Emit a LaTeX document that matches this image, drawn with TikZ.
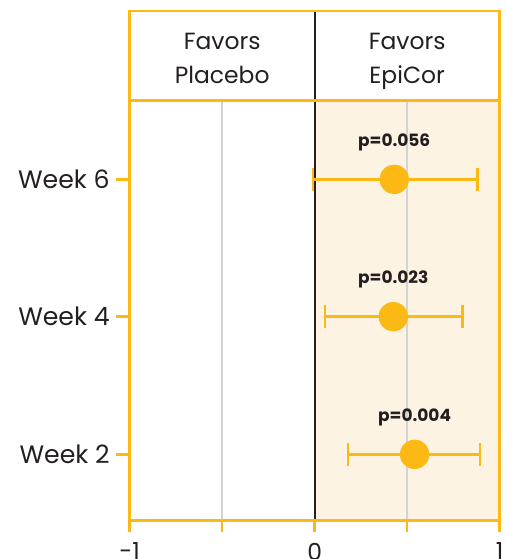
\documentclass[tikz,border=0pt]{standalone}
\usepackage{fontspec}
\setmainfont{Poppins}
\usepackage{tikz}
\usetikzlibrary{positioning}
\definecolor{gold}{HTML}{FDB913}
\definecolor{cream}{HTML}{FCF3E3}
\definecolor{gridgray}{HTML}{D3D3D3}
\definecolor{ink}{HTML}{231F20}

\tikzset{
  frameline/.style={gold, line width=0.075cm},
  errbar/.style={gold, line width=0.075cm},
  dot/.style={circle, fill=gold, minimum size=0.88cm, inner sep=0},
  pval/.style={font=\fontsize{14.5}{16}\selectfont\bfseries, text=ink, inner sep=0},
  weeklabel/.style={font=\fontsize{21.5}{24}\selectfont, text=ink, anchor=east, inner sep=0},
  ticklabel/.style={font=\fontsize{20}{24}\selectfont, text=ink, anchor=north, inner sep=0},
  header/.style={font=\fontsize{20}{29}\selectfont, text=ink, align=center, anchor=north, inner sep=0}
}

\begin{document}
\begin{tikzpicture}[x=5.55cm,y=1cm]
\useasboundingbox (-1.701,-1.15) rectangle (1.034,15.62);

% background and grid
\fill[cream] (0,0) rectangle (1,12.6);
\draw[gridgray, line width=0.07cm] (-0.5,0) -- (-0.5,12.6);
\draw[gridgray, line width=0.07cm] (0.5,0) -- (0.5,12.6);
\draw[ink, line width=0.07cm] (0,0) -- (0,15.29);
\draw[frameline] (-1,0) rectangle (1,15.29);
\draw[frameline] (-1,12.6) -- (1,12.6);

% header
\node[header] (placebo) at (-0.5,14.64) {Favors\\Placebo};
\node[header] (epicor) at (0.5,14.64) {Favors\\EpiCor};

% x axis
\draw[frameline] (-1,0) -- (-1,-0.33);
\draw[frameline] (-0.5,0) -- (-0.5,-0.33);
\draw[frameline] (0,0) -- (0,-0.33);
\draw[frameline] (0.5,0) -- (0.5,-0.33);
\draw[frameline] (1,0) -- (1,-0.33);
\node[ticklabel] (xm1) at (-1,-0.66) {-1};
\node[ticklabel] (x0) at (0,-0.66) {0};
\node[ticklabel] (x1) at (1,-0.66) {1};

% y axis
\draw[frameline] (-1.074,10.24) -- (-1,10.24);
\draw[frameline] (-1.074,6.12) -- (-1,6.12);
\draw[frameline] (-1.074,1.99) -- (-1,1.99);
\node[weeklabel] (week6) at (-1.107,10.24) {Week 6};
\node[weeklabel] (week4) at (-1.107,6.12) {Week 4};
\node[weeklabel] (week2) at (-1.107,1.99) {Week 2};

% week 6
\coordinate (w6lo) at (-0.01,10.24);
\coordinate (w6hi) at (0.88,10.24);
\draw[errbar] (w6lo) -- (w6hi);
\draw[errbar] ([yshift=-0.35cm]w6lo) -- ([yshift=0.35cm]w6lo);
\draw[errbar] ([yshift=-0.35cm]w6hi) -- ([yshift=0.35cm]w6hi);
\node[dot] (w6) at (0.43,10.24) {};
\node[pval, above=0.4cm of w6] (p6) {p=0.056};

% week 4
\coordinate (w4lo) at (0.055,6.12);
\coordinate (w4hi) at (0.80,6.12);
\draw[errbar] (w4lo) -- (w4hi);
\draw[errbar] ([yshift=-0.35cm]w4lo) -- ([yshift=0.35cm]w4lo);
\draw[errbar] ([yshift=-0.35cm]w4hi) -- ([yshift=0.35cm]w4hi);
\node[dot] (w4) at (0.425,6.12) {};
\node[pval, above=0.4cm of w4] (p4) {p=0.023};

% week 2
\coordinate (w2lo) at (0.18,1.99);
\coordinate (w2hi) at (0.894,1.99);
\draw[errbar] (w2lo) -- (w2hi);
\draw[errbar] ([yshift=-0.35cm]w2lo) -- ([yshift=0.35cm]w2lo);
\draw[errbar] ([yshift=-0.35cm]w2hi) -- ([yshift=0.35cm]w2hi);
\node[dot] (w2) at (0.54,1.99) {};
\node[pval, above=0.4cm of w2] (p2) {p=0.004};

\end{tikzpicture}
\end{document}
